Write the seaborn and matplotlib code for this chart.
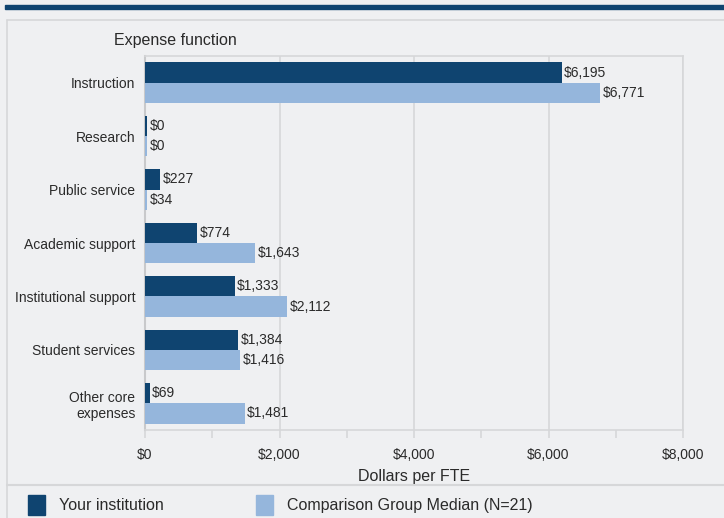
import matplotlib
matplotlib.use("Agg")
import matplotlib.pyplot as plt
import matplotlib.patches as mpatches
from matplotlib.lines import Line2D
import seaborn as sns
import pandas as pd
from matplotlib.ticker import FuncFormatter, MultipleLocator

categories = ["Instruction", "Research", "Public service", "Academic support",
              "Institutional support", "Student services", "Other core\nexpenses"]
your_institution = [6195, 0, 227, 774, 1333, 1384, 69]
comparison_median = [6771, 0, 34, 1643, 2112, 1416, 1481]
series_names = ["Your institution", "Comparison Group Median (N=21)"]
colors = ["#0f4470", "#95b6dc"]

rows = []
for c, a, b in zip(categories, your_institution, comparison_median):
    rows.append({"cat": c, "series": series_names[0], "value": a})
    rows.append({"cat": c, "series": series_names[1], "value": b})
df = pd.DataFrame(rows)

sns.set_theme(style="white")
plt.rcParams["font.family"] = ["Liberation Sans", "DejaVu Sans"]
bg = "#eff0f2"
grid = "#d6d7d9"
txt = "#2a2a2a"

fig = plt.figure(figsize=(7.24, 5.18), dpi=100, facecolor=bg)
ax = fig.add_axes([145/724, 1-430/518, (683-145)/724, (430-56)/518])
ax.set_facecolor(bg)

sns.barplot(data=df, y="cat", x="value", hue="series", order=categories,
            hue_order=series_names, palette=colors, orient="h", width=0.76,
            saturation=1, ax=ax, legend=False, linewidth=0)

for cont in ax.containers:
    for bar in cont:
        w = bar.get_width()
        shown = max(w, 32)
        bar.set_width(shown)
        bar.set_zorder(3)
        y = bar.get_y() + bar.get_height()/2
        ax.text(shown + 35, y, f"${int(w):,}", va="center", ha="left",
                fontsize=10, color=txt, zorder=4)

ax.set_xlim(0, 8000)
ax.xaxis.set_major_locator(MultipleLocator(2000))
ax.xaxis.set_minor_locator(MultipleLocator(1000))
ax.xaxis.set_major_formatter(FuncFormatter(lambda v, p: f"${int(v):,}"))
ax.grid(axis="x", which="major", color=grid, linewidth=1.2)
ax.set_axisbelow(True)
for s in ["top", "right", "left", "bottom"]:
    ax.spines[s].set_color(grid)
    ax.spines[s].set_linewidth(1.2)
ax.spines["left"].set_color("#c8c9cb")
ax.spines["left"].set_linewidth(1.5)
ax.spines["left"].set_zorder(2)
ax.tick_params(axis="x", which="both", bottom=True, length=6, color=grid,
               width=1.2, labelsize=10, labelcolor=txt, pad=7)
ax.tick_params(axis="y", length=0, labelsize=10, labelcolor=txt, pad=7)
for lab in ax.get_yticklabels():
    lab.set_horizontalalignment("right")
ax.set_ylabel("")
ax.set_xlabel("Dollars per FTE", fontsize=11.5, color=txt, labelpad=5)

fig.text(114/724, 1-40/518, "Expense function", fontsize=11.5, color=txt,
         va="center", ha="left")

# decorations
fig.patches.append(mpatches.Rectangle((5/724, 1-9/518), 1, 4/518,
                   transform=fig.transFigure, color="#0f4470", zorder=5))
fig.lines.append(Line2D([7/724, 1], [1-20/518, 1-20/518], transform=fig.transFigure,
                        color=grid, linewidth=1.2))
fig.lines.append(Line2D([7/724, 7/724], [0, 1-20/518], transform=fig.transFigure,
                        color=grid, linewidth=1.2))
fig.lines.append(Line2D([7/724, 1], [1-485/518, 1-485/518], transform=fig.transFigure,
                        color=grid, linewidth=1.5))

handles = [mpatches.Patch(color=colors[0]), mpatches.Patch(color=colors[1])]
fig.legend(handles, series_names, loc="center left", bbox_to_anchor=(28/724, 1-505/518),
           ncol=2, frameon=False, fontsize=11.5, handlelength=1.08, handleheight=1.5,
           columnspacing=5.8, handletextpad=0.85, labelcolor=txt, borderpad=0,
           borderaxespad=0)

fig.savefig("out.png", dpi=100, facecolor=bg)
